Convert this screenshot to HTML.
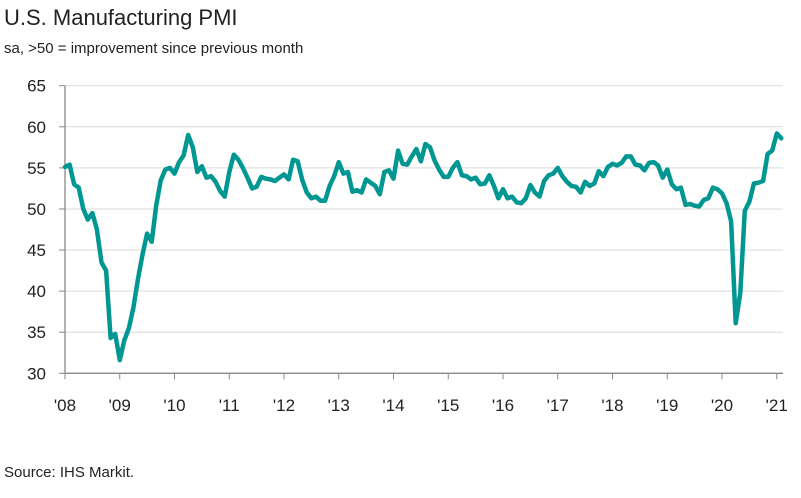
<!DOCTYPE html>
<html><head><meta charset="utf-8"><style>
body{margin:0;background:#fff;font-family:"Liberation Sans",sans-serif;}
svg text{font-family:"Liberation Sans",sans-serif;fill:#222;}
</style></head><body>
<svg width="801" height="493">
<text x="4" y="25" font-size="22">U.S. Manufacturing PMI</text>
<text x="4" y="53" font-size="15">sa, &gt;50 = improvement since previous month</text>
<text x="4" y="477" font-size="15">Source: IHS Markit.</text>
<g id="grid"></g><g id="axes"></g><g id="series"></g>
</svg>
<script>
const yTicks=[30,35,40,45,50,55,60,65];
const xLabels=["'08","'09","'10","'11","'12","'13","'14","'15","'16","'17","'18","'19","'20","'21"];
const pmi=[
55.1,55.4,53.0,52.6,50.0,48.7,49.5,47.5,43.5,42.5,34.3,34.8,
31.6,34.0,35.5,38.0,41.5,44.5,47.0,46.0,50.5,53.5,54.8,55.0,
54.3,55.7,56.5,59.0,57.5,54.5,55.2,53.8,54.0,53.3,52.2,51.5,
54.5,56.6,56.0,55.0,53.8,52.5,52.7,53.9,53.7,53.6,53.4,53.8,
54.2,53.6,56.0,55.8,53.5,52.0,51.3,51.5,51.0,51.0,52.8,54.0,
55.7,54.3,54.5,52.1,52.3,52.0,53.6,53.2,52.8,51.8,54.5,54.7,
53.7,57.1,55.5,55.4,56.4,57.3,55.8,57.9,57.5,55.9,54.8,53.9,
53.9,55.0,55.7,54.1,54.0,53.6,53.8,53.0,53.1,54.1,52.8,51.3,
52.4,51.3,51.5,50.8,50.7,51.3,52.9,52.0,51.5,53.4,54.1,54.3,
55.0,54.0,53.3,52.8,52.7,52.0,53.3,52.8,53.1,54.6,54.0,55.1,
55.5,55.3,55.6,56.4,56.4,55.4,55.3,54.7,55.6,55.7,55.3,53.8,
54.8,53.0,52.4,52.6,50.5,50.6,50.4,50.3,51.1,51.3,52.6,52.4,
51.9,50.7,48.5,36.1,39.8,49.8,50.9,53.1,53.2,53.4,56.7,57.1,
59.2,58.6];
const NS="http://www.w3.org/2000/svg";
const x0=65,yearW=54.75;
function xs(i){return x0+i*yearW/12;}
function ys(v){return 85.7+(65-v)*8.217;}
function mk(t,a,p){const e=document.createElementNS(NS,t);for(const k in a)e.setAttribute(k,a[k]);p.appendChild(e);return e;}
const grid=document.getElementById('grid'),axes=document.getElementById('axes'),ser=document.getElementById('series');
yTicks.forEach(v=>{
  if(v>30){const g=mk('line',{x1:x0,x2:783,y1:ys(v),y2:ys(v),stroke:'#d9d9d9','stroke-width':1},grid);
  
  }
  const t=mk('line',{x1:x0-6,x2:x0,y1:ys(v),y2:ys(v),stroke:'#888','stroke-width':1},axes);
  
  
  const l=mk('text',{x:x0-19,y:ys(v)+6,'font-size':17,'text-anchor':'end'},axes);l.textContent=v;
  
  
});
const ya=mk('line',{x1:x0,x2:x0,y1:ys(65),y2:ys(30),stroke:'#888','stroke-width':1.3},axes);


const xa=mk('line',{x1:x0,x2:783,y1:ys(30),y2:ys(30),stroke:'#888','stroke-width':1.3},axes);


xLabels.forEach((s,i)=>{
  const x=x0+i*yearW;
  const t=mk('line',{x1:x,x2:x,y1:ys(30),y2:ys(30)+6,stroke:'#888','stroke-width':1},axes);
  
  
  const l=mk('text',{x:x,y:411,'font-size':17,'text-anchor':'middle'},axes);l.textContent=s;
  
  
});
const pts=pmi.map((v,i)=>xs(i).toFixed(1)+','+ys(v).toFixed(1)).join(' ');
const pl=mk('polyline',{points:pts,fill:'none',stroke:'#009692','stroke-width':4.5,'stroke-linejoin':'round','stroke-linecap':'round'},ser);


</script>
</body></html>
